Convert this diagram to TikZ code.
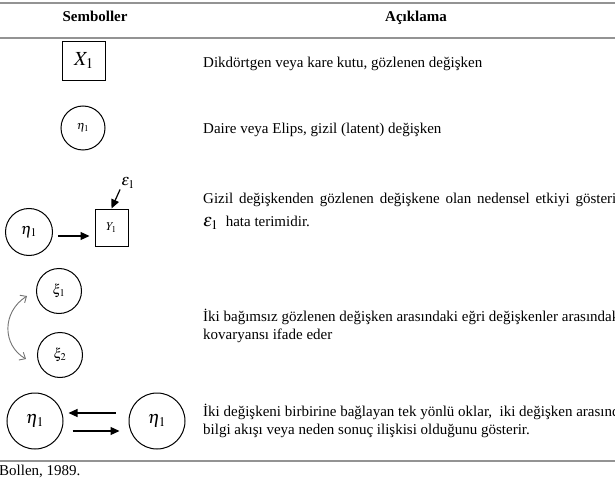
\documentclass[tikz,border=0pt]{standalone}
\usepackage{mathptmx}
\usepackage{fontspec}
\setmainfont{Liberation Serif}
\usetikzlibrary{
  arrows.meta,
  positioning}

\begin{document}
\begin{tikzpicture}[x=1pt,y=-1pt]
  \tikzset{rule line/.style={gray!85,line width=1.4pt},
           head text/.style={anchor=base,font=\fontsize{15}{17}\selectfont\bfseries},
           desc/.style={anchor=west,inner sep=0pt,align=left,
                        font=\fontsize{15}{17.3}\selectfont},
           latent/.style={draw,circle,line width=1pt,inner sep=0pt,
                          minimum size=#1},
           observed/.style={draw,rectangle,line width=1pt,inner sep=0pt},
           effect/.style={-{Triangle[length=9pt,width=8pt]},line width=1.2pt},
           cov/.style={{Straight Barb[length=5pt,width=9pt]}-{Straight Barb[length=5pt,width=9pt]},
                       gray!90!black,line width=0.9pt}
          }

\useasboundingbox (0,0) rectangle (615,478);
\clip (0,0) rectangle (615,478);

%%%%%%%%%%%%%%%%%%%%%%%%%%%%%%%%%%%%%%%%%%%%%%%%%%%%%%%%%%%%%%%%%%%%%%%%%%%%%%

\coordinate (TL) at (0,3);
\coordinate (TR) at (615,3);
\coordinate (HL) at (0,38);
\coordinate (HR) at (615,38);
\coordinate (BL) at (0,461);
\coordinate (BR) at (615,461);

\node[head text] (SEM) at (95,22) {Semboller};
\node[head text] (ACK) at (416,22) {Açıklama};

%%%%%%%%%%%%%%%%%%%%%%%%%%%%%%%%%%%%%%%%%%%%%%%%%%%%%%%%%%%%%%%%%%%%%%%%%%%%%%

\node[observed,minimum width=43pt,minimum height=39pt,font=\fontsize{20}{20}\selectfont] (X) at (84,61) {$X_1$};
\node[desc] (T1) at (203,64) {Dikdörtgen veya kare kutu, gözlenen değişken};

\node[latent=44pt,font=\fontsize{12}{12}\selectfont] (ETA) at (83,128) {$\eta_1$};
\node[desc] (T2) at (203,130) {Daire veya Elips, gizil (latent) değişken};

\node[latent=47pt,font=\fontsize{16}{16}\selectfont] (E) at (29,232) {$\eta_1$};
\node[observed,minimum width=33pt,minimum height=36pt,font=\fontsize{12}{12}\selectfont] (Y) at (111.5,228) {$Y_1$};
\node[font=\fontsize{16}{16}\selectfont,inner sep=1pt] (EPS) at (128,183) {$\varepsilon_1$};
\node[desc] (T3) at (203,200) {\makebox[421pt][s]{Gizil değişkenden gözlenen değişkene olan nedensel etkiyi gösterir.}};
\node[desc] (T3b) at (203,223) {{\fontsize{18}{18}\selectfont$\varepsilon_1$}\ \ hata terimidir.};

\node[latent=45pt,font=\fontsize{14}{14}\selectfont] (XI1) at (59,291) {$\xi_1$};
\node[latent=45pt,font=\fontsize{14}{14}\selectfont] (XI2) at (60,355) {$\xi_2$};
\node[desc] (T4) at (203,326) {İki bağımsız gözlenen değişken arasındaki eğri değişkenler arasındaki\\
                                 kovaryansı ifade eder};

\node[latent=56pt,font=\fontsize{18}{18}\selectfont] (L) at (35,421) {$\eta_1$};
\node[latent=56pt,font=\fontsize{18}{18}\selectfont] (R) at (157,421) {$\eta_1$};
\node[desc] (T5) at (203,421) {İki değişkeni birbirine bağlayan tek yönlü oklar, \ iki değişken arasında\\
                                 bilgi akışı veya neden sonuç ilişkisi olduğunu gösterir.};

\node[anchor=west,inner sep=0pt,font=\fontsize{15}{17}\selectfont] (SRC) at (-1,471) {Bollen, 1989.};

%%%%%%%%%%%%%%%%%%%%%%%%%%%%%%%%%%%%%%%%%%%%%%%%%%%%%%%%%%%%%%%%%%%%%%%%%%%%%%
\draw[rule line] (TL) -- (TR);
\draw[rule line] (HL) -- (HR);
\draw[rule line] (BL) -- (BR);

\draw[effect] ([shift={(5,4)}]E.east) -- ([shift={(-5,8)}]Y.west);
\draw[effect] (EPS.south west) -- ([yshift=1pt]Y.north);

\draw[cov] ([shift={(-9,5)}]XI1.west) .. controls (2,312) and (2,345) .. ([shift={(-11,4)}]XI2.west);

\draw[effect] ([shift={(-13,-8)}]R.west) -- ([shift={(5,-8)}]L.east);
\draw[effect] ([shift={(9,10)}]L.east) -- ([shift={(-9,10)}]R.west);

%%%%%%%%%%%%%%%%%%%%%%%%%%%%%%%%%%%%%%%%%%%%%%%%%%%%%%%%%%%%%%%%%%%%%%%%%%%%%%

\end{tikzpicture}
\end{document}
